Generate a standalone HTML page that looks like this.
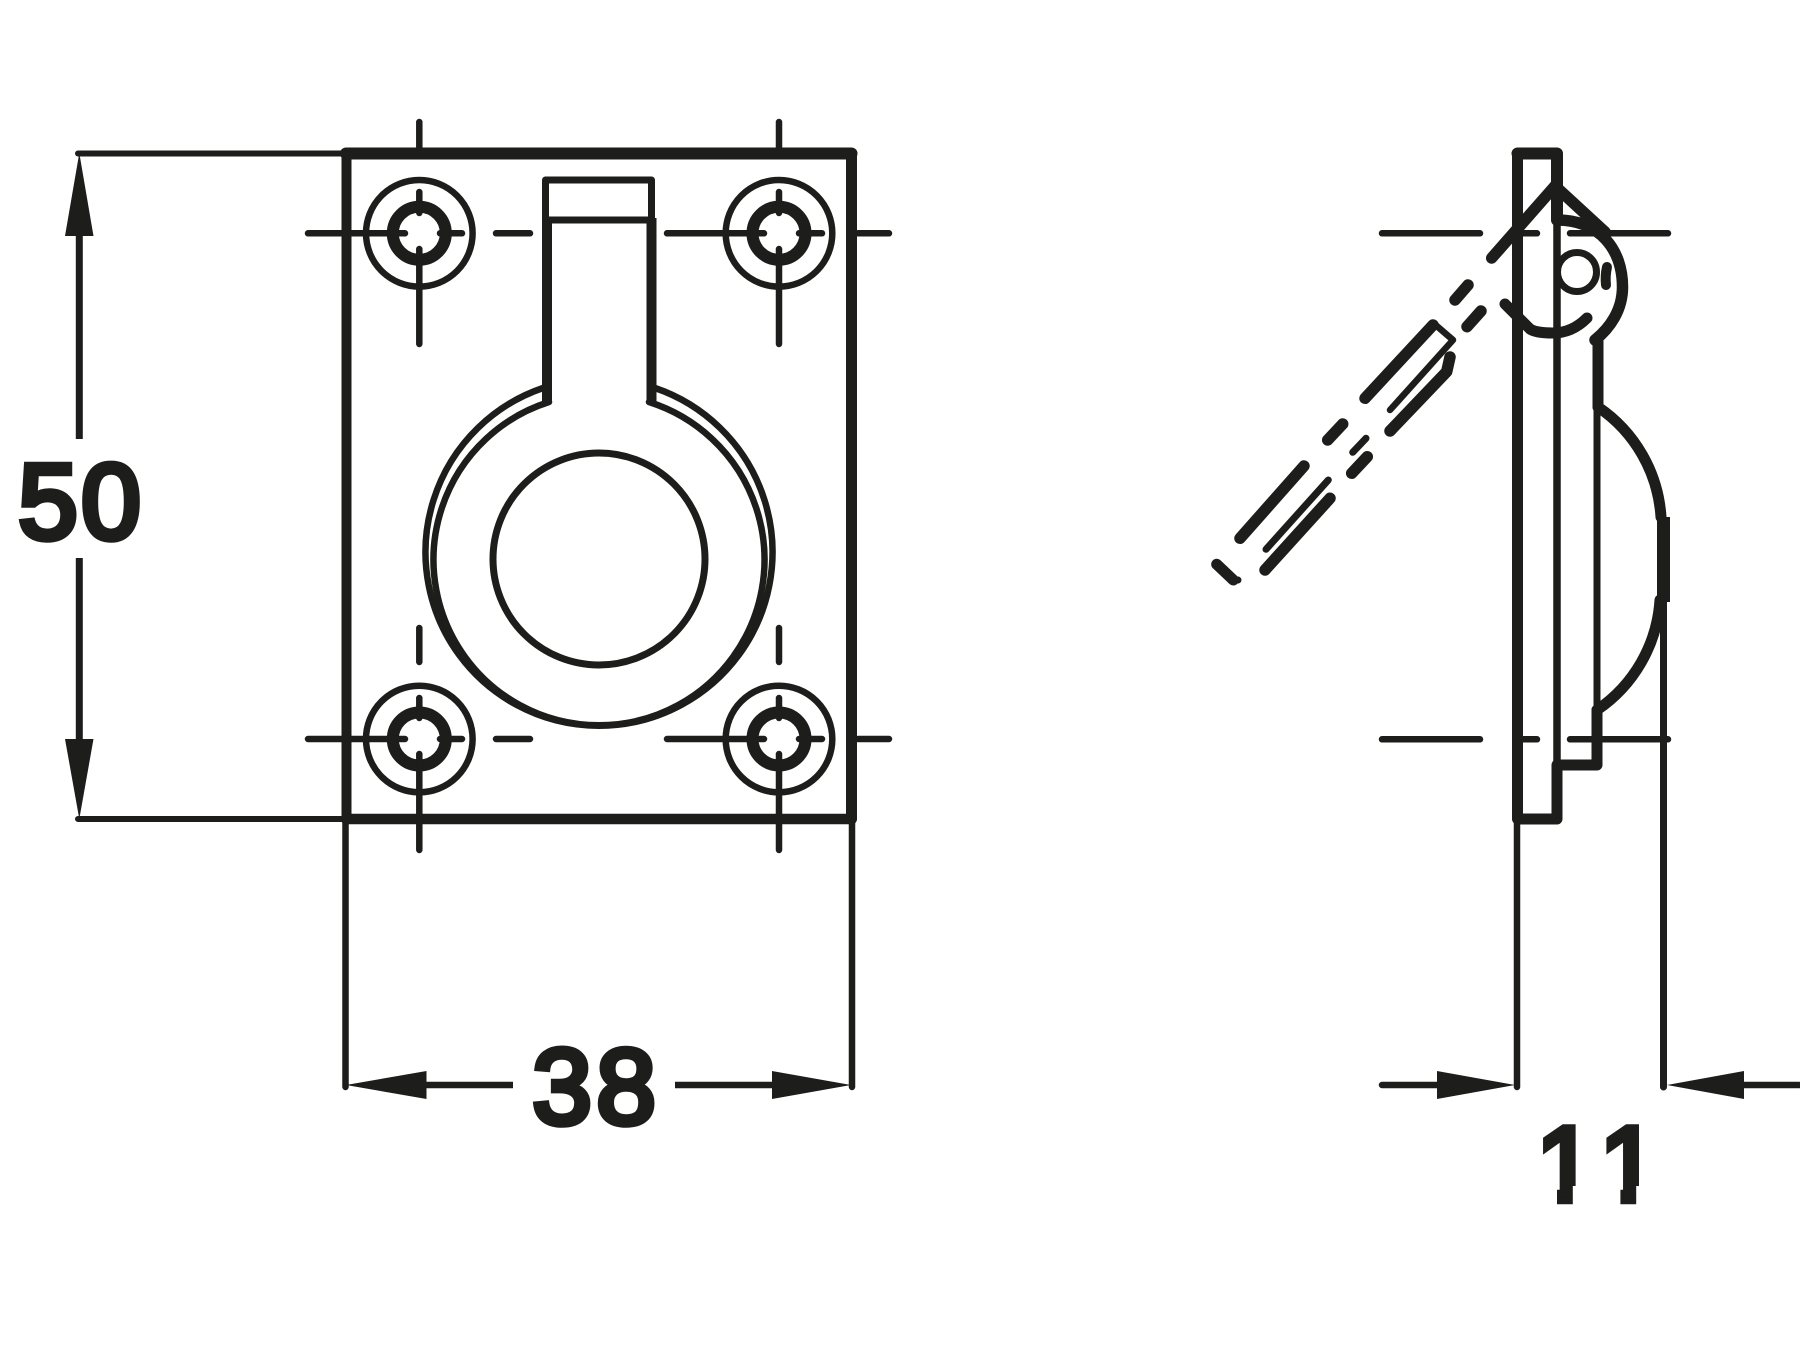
<!DOCTYPE html>
<html><head><meta charset="utf-8"><style>html,body{margin:0;padding:0;background:#fff}svg{display:block}</style></head>
<body>
<svg width="1800" height="1350" viewBox="0 0 1800 1350" xmlns="http://www.w3.org/2000/svg">
<rect width="1800" height="1350" fill="#fff"/>
<defs>
<g id="hole" fill="none" stroke="#1d1d1b" stroke-linecap="round">
<circle r="53.3" stroke-width="6.5"/>
<circle r="26.5" stroke-width="12"/>
</g>
</defs>
<g fill="none" stroke="#1d1d1b" stroke-linecap="round" stroke-linejoin="round">
<!-- plate -->
<path d="M346.5 153.5V819" stroke-width="10"/>
<path d="M851.5 153.5V819" stroke-width="11"/>
<path d="M346 153.5H851.5" stroke-width="12"/>
<path d="M346 819H851.5" stroke-width="10.5"/>
<!-- dim 50 -->
<path d="M78 153.5H346M78 819H346" stroke-width="6"/>
<path d="M79.3 236V439M79.3 558V739" stroke-width="7" stroke-linecap="butt"/>
<!-- dim 38 -->
<path d="M345.5 819V1087M852 819V1087" stroke-width="6.5"/>
<path d="M426 1085H513M675 1085H773" stroke-width="6.5" stroke-linecap="butt"/>
<!-- holes -->
<use href="#hole" x="419.3" y="233.3"/>
<use href="#hole" x="779" y="233.3"/>
<use href="#hole" x="419.3" y="739"/>
<use href="#hole" x="779" y="739"/>
<!-- centre lines -->
<path stroke-width="6.5" d="M419.3 122V148M419.3 192V213M419.3 249V344M779 122V148M779 192V213M779 249V344"/>
<path stroke-width="6.5" d="M308 233.3H405M440 233.3H462M496 233.3H530M667 233.3H764M799 233.3H822M858 233.3H889"/>
<path stroke-width="6.5" d="M419.3 628V662M419.3 698V718M419.3 754V850M779 628V662M779 698V718M779 754V850"/>
<path stroke-width="6.5" d="M308 739H405M440 739H462M496 739H530M667 739H764M799 739H822M858 739H889"/>
<!-- tab -->
<path stroke-width="7" d="M545.5 180H651.5M546 220H651M545.5 180V220M651.5 180V220"/>
<path stroke-width="10" stroke-linecap="butt" d="M547 218V403M651.5 218V403"/>
<!-- ring -->
<circle cx="599" cy="559" r="106" stroke-width="7"/>
<path stroke-width="6.5" d="M543 388A173.5 173.5 0 1 0 655 388"/>
<path stroke-width="6.5" d="M549 402A165.5 165.5 0 1 0 649 402"/>
</g>
<g fill="none" stroke="#1d1d1b" stroke-linecap="round" stroke-linejoin="round">
<!-- side view -->
<path stroke-width="11" d="M1517.5 153.5V819H1557V765H1597V710"/>
<path stroke-width="12" d="M1517.5 153.5H1557V220"/>
<path stroke-width="7.5" d="M1557 220V765"/>
<path stroke-width="7" d="M1597 340V710"/>
<path stroke-width="11" d="M1598 338V407"/>
<path stroke-width="11" d="M1598 407A144 144 0 0 1 1661 517"/>
<path stroke-width="11" d="M1660 600A144 144 0 0 1 1597 710"/>
<path stroke-width="13" stroke-linecap="butt" d="M1663.5 517V602"/>
<path stroke-width="7" d="M1663.5 600V1087"/>
<path stroke-width="6.5" d="M1517 819V1087"/>
<!-- knuckle -->
<path stroke-width="11.5" d="M1557 220C1600 220 1622.5 250 1622.5 287C1622.5 310 1610 328 1595 340"/>
<path stroke-width="11.5" d="M1555 186L1605 232"/>
<path stroke-width="11.5" d="M1555 186L1491.7 258"/>
<circle cx="1577" cy="272" r="19.5" stroke-width="7"/>
<path stroke-width="10" d="M1607 267Q1605 276 1606 285"/>
<path stroke-width="11" d="M1505 304L1530 329Q1536 333 1553 333Q1572 333 1587 318"/>
<!-- centre lines -->
<path stroke-width="6.5" d="M1382 233.3H1480M1523 233.3H1537M1570 233.3H1668"/>
<path stroke-width="6.5" d="M1382 739.3H1480M1522 739.3H1537M1570 739.3H1668"/>
<!-- dashed handle -->
<path stroke-width="11.5" d="M1455 300L1468 285M1467 326.7L1481 311"/>
<path stroke-width="11.5" d="M1365 398.3L1433 325"/>
<path stroke-width="6.5" d="M1433.3 323L1453 340L1390 410"/>
<path stroke-width="11.5" d="M1390 431L1446.7 371.7L1450 357"/>
<path stroke-width="11.5" d="M1327.7 440L1342.7 424M1351.7 473.3L1367.3 456.7"/>
<path stroke-width="7" d="M1352.7 452.3L1366 438.3"/>
<path stroke-width="11.5" d="M1240 538.3L1304 466M1265 570L1330 498.3"/>
<path stroke-width="7" d="M1266 549.3L1328.3 480"/>
<path stroke-width="11" d="M1216.7 564.3L1233.3 580"/>
<path stroke-width="7" d="M1233 581L1238 580"/>
<!-- dim 11 -->
<path stroke-width="6.5" d="M1382 1085H1438M1799 1085H1744"/>
</g>
<g fill="#1d1d1b">
<polygon points="79.3,153 65,236 93.5,236"/>
<polygon points="79.3,819 65,739 93.5,739"/>
<polygon points="346,1085 426.5,1071 426.5,1099"/>
<polygon points="851,1085 772,1071 772,1099"/>
<polygon points="1515,1085 1437,1071 1437,1099"/>
<polygon points="1667,1085 1744,1071 1744,1099"/>
<g font-family="'Liberation Sans',Arial,sans-serif" font-weight="400" font-size="107" stroke="#1d1d1b" stroke-width="6.5" stroke-linejoin="miter">
<text x="18.2 81.2" y="538.4">50</text>
<text x="532.4 596.4" y="1123.7">38</text>
<text x="1536 1599.4" y="1201">11</text>
</g>
</g>
<!-- trim the serif feet on the 1s so they match the sans reference numerals -->
<g fill="#fff">
<rect x="1525" y="1186" width="32" height="24"/>
<rect x="1572.8" y="1186" width="47.6" height="24"/>
<rect x="1636.2" y="1186" width="24" height="24"/>
</g>
</svg>
</body></html>
